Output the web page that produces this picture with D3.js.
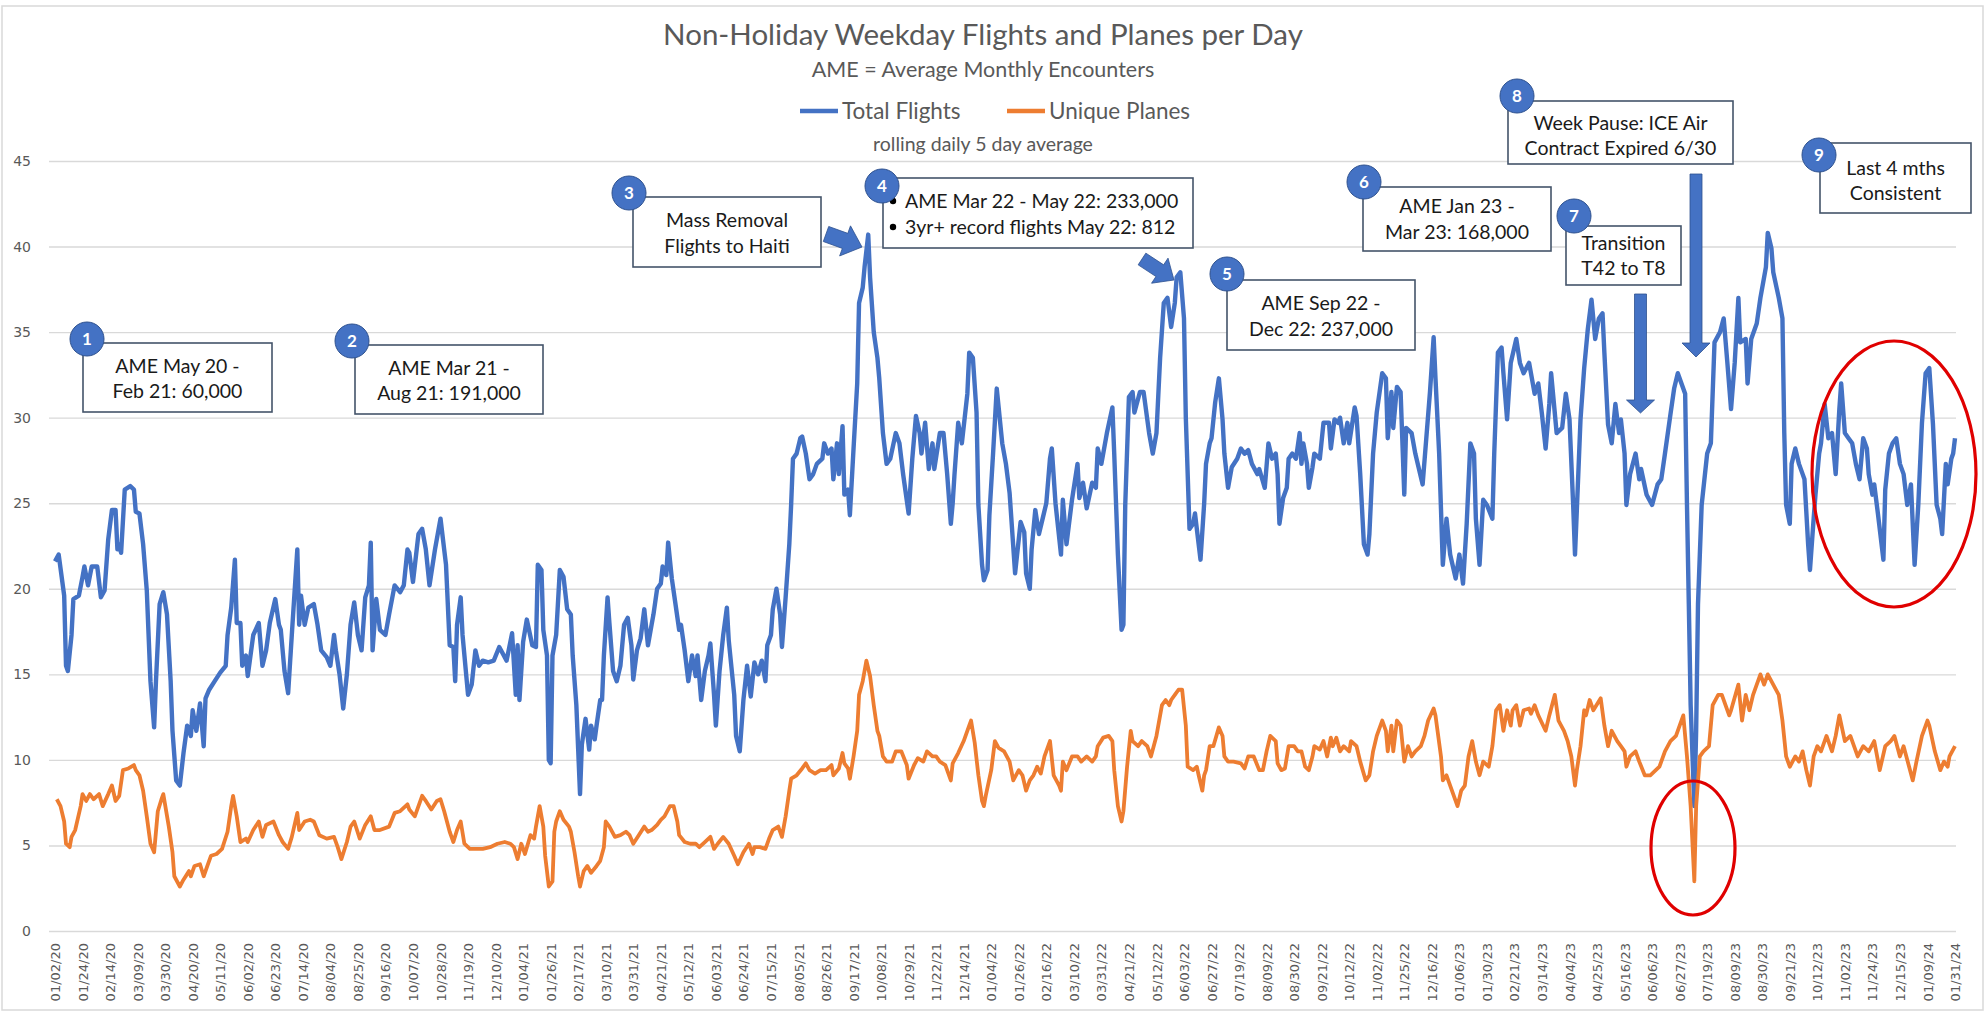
<!DOCTYPE html>
<html>
<head>
<meta charset="utf-8">
<script src="https://cdn.jsdelivr.net/npm/d3@7/dist/d3.min.js"></script>
<style>
  body { margin: 0; background: #fff; }
  svg { display: block; }
</style>
</head>
<body>
<svg id="chart" width="1986" height="1013"></svg>
<script>
// tick labels, one every 15 non-holiday weekdays
const dateLabels = ['01/02/20','01/24/20','02/14/20','03/09/20','03/30/20','04/20/20','05/11/20','06/02/20','06/23/20','07/14/20',
  '08/04/20','08/25/20','09/16/20','10/07/20','10/28/20','11/19/20','12/10/20','01/04/21','01/26/21','02/17/21',
  '03/10/21','03/31/21','04/21/21','05/12/21','06/03/21','06/24/21','07/15/21','08/05/21','08/26/21','09/17/21',
  '10/08/21','10/29/21','11/22/21','12/14/21','01/04/22','01/26/22','02/16/22','03/10/22','03/31/22','04/21/22',
  '05/12/22','06/03/22','06/27/22','07/19/22','08/09/22','08/30/22','09/21/22','10/12/22','11/02/22','11/25/22',
  '12/16/22','01/06/23','01/30/23','02/21/23','03/14/23','04/04/23','04/25/23','05/16/23','06/06/23','06/27/23',
  '07/19/23','08/09/23','08/30/23','09/21/23','10/12/23','11/02/23','11/24/23','12/15/23','01/09/24','01/31/24'];
const dayCount = 1036;
const yTicks = [0, 5, 10, 15, 20, 25, 30, 35, 40, 45];

// [weekday index, rolling 5 day average]
const totalFlights = [[0,21.6],[2,22.0],[5,19.6],[6,15.5],[7,15.2],[9,17.3],[10,19.4],[13,19.6],[15,20.7],[16,21.3],[18,20.2],[20,21.3],[23,21.3],[25,19.5],[27,19.9],[29,22.9],[31,24.6],[33,24.6],[34,22.3],[35,22.6],[36,22.1],[38,25.8],[41,26.0],[43,25.8],[44,24.5],[46,24.4],[48,22.6],[50,19.9],[52,14.6],[54,11.9],[55,14.6],[57,19.1],[59,19.8],[61,18.5],[63,14.6],[64,11.7],[66,8.8],[68,8.5],[70,10.4],[72,12.0],[74,11.4],[75,12.9],[77,11.7],[79,13.3],[81,10.8],[82,13.6],[84,14.1],[87,14.6],[90,15.1],[93,15.5],[94,17.3],[96,18.9],[98,21.7],[99,18.0],[101,18.0],[102,15.5],[104,16.1],[105,14.9],[108,17.3],[111,18.0],[113,15.5],[115,16.4],[117,18.0],[120,19.4],[122,17.9],[123,17.6],[125,15.2],[127,13.9],[129,17.3],[132,22.3],[133,17.9],[134,19.6],[136,17.9],[138,18.9],[141,19.1],[143,17.9],[145,16.4],[148,16.0],[150,15.5],[152,17.3],[153,16.4],[155,15.0],[157,13.0],[159,15.0],[161,17.9],[163,19.2],[165,17.3],[167,16.4],[169,19.5],[171,20.2],[172,22.7],[173,16.4],[175,19.4],[177,17.6],[180,17.3],[182,18.5],[185,20.2],[188,19.8],[190,20.2],[192,22.3],[193,22.1],[195,20.4],[198,23.2],[200,23.5],[202,22.3],[204,20.2],[207,22.3],[210,24.1],[212,22.3],[213,21.4],[215,16.7],[217,16.6],[218,14.6],[219,17.9],[221,19.5],[222,17.3],[225,13.8],[227,14.4],[229,16.4],[231,15.5],[233,15.8],[236,15.7],[239,15.8],[242,16.6],[246,15.8],[249,17.4],[251,13.8],[252,16.7],[253,13.5],[255,16.9],[257,18.2],
  [260,16.7],[262,16.6],[263,21.4],[265,21.1],[266,17.6],[268,16.1],[269,10.0],[270,9.8],[271,16.1],[273,17.3],[275,21.1],[277,20.7],[279,18.8],[281,18.5],[282,16.1],[284,13.2],[285,10.6],[286,8.0],[287,10.9],[289,12.4],[291,10.6],[292,12.0],[294,11.2],[295,12.0],[297,13.5],[298,13.5],[299,16.1],[301,19.5],[302,18.0],[304,15.2],[306,14.6],[308,15.5],[310,17.9],[312,18.3],[314,16.7],[315,14.7],[317,16.4],[319,17.1],[321,18.8],[323,16.7],[325,17.9],[326,18.5],[328,20.0],[330,20.3],[331,21.3],[333,20.8],[334,22.7],[336,20.6],[338,19.1],[340,17.6],[341,17.9],[343,16.4],[345,14.6],[347,16.1],[349,14.9],[350,16.1],[352,13.5],[354,15.2],[356,16.1],[357,16.8],[359,13.8],[360,12.0],[362,15.2],[364,17.3],[366,18.9],[367,17.0],[370,13.8],[371,11.4],[373,10.5],[375,13.5],[377,15.5],[379,13.7],[381,15.7],[383,15.0],[385,15.8],[387,14.6],[388,16.7],[390,17.3],[391,18.8],[393,20.0],[395,18.5],[396,16.6],[398,19.5],[400,22.6],[401,24.9],[402,27.6],[404,27.9],[406,28.8],[407,28.9],[409,27.9],[411,26.4],[413,26.7],[415,27.3],[418,27.6],[419,28.5],[421,27.9],[423,28.2],[424,26.4],[426,28.5],[427,26.7],[429,29.5],[430,25.5],[432,25.8],[433,24.3],[435,28.2],[437,32.0],[438,36.7],[440,37.6],[441,38.8],[443,40.7],[444,38.2],[446,35.0],[448,33.5],[449,32.3],[451,29.1],[453,27.3],[455,27.6],[458,29.1],[460,28.5],[462,26.7],[465,24.4],[467,27.6],[469,30.1],[471,29.1],[472,27.9],[474,29.7],[476,27.0],[478,28.5],[479,27.0],[482,29.1],[484,29.1],[486,26.7],[488,23.8],[489,25.0],[490,26.7],[492,29.7],[494,28.5],[497,31.4],[498,33.8],[500,33.5],[502,30.3],[503,24.9],[505,21.4],[506,20.5],[508,21.1],[509,24.3],[511,27.9],[513,31.7],[516,28.5],[518,27.3],
  [520,25.6],[523,20.9],[526,23.9],[528,23.3],[529,20.9],[531,20.0],[532,22.3],[534,24.6],[536,23.2],[538,24.1],[540,25.0],[542,27.6],[543,28.2],[545,25.0],[548,22.0],[549,25.2],[551,22.6],[554,25.2],[557,27.3],[558,25.3],[560,26.2],[562,24.7],[565,26.2],[567,25.9],[568,28.2],[570,27.3],[573,29.1],[576,30.6],[577,27.9],[579,22.0],[581,17.6],[582,17.9],[583,24.9],[585,31.2],[587,31.5],[588,30.3],[591,31.5],[593,31.5],[596,29.1],[598,27.9],[600,29.1],[602,33.5],[604,36.7],[606,37.0],[608,35.3],[610,36.7],[611,38.2],[613,38.5],[615,35.8],[616,30.0],[618,23.5],[620,23.8],[621,24.4],[622,23.5],[624,21.7],[626,25.0],[627,27.3],[629,28.5],[630,28.8],[632,30.9],[634,32.3],[636,29.9],[637,27.9],[639,25.9],[641,27.1],[644,27.6],[646,28.2],[648,27.9],[650,28.1],[652,27.3],[655,26.7],[656,27.0],[659,25.9],[661,28.5],[663,27.6],[665,27.9],[666,26.7],[667,23.8],[669,25.3],[671,25.9],[672,27.6],[674,27.9],[676,27.6],[678,29.1],[679,27.3],[680,28.5],[682,27.3],[683,25.9],[685,27.1],[686,27.9],[689,27.6],[691,29.7],[694,29.7],[695,28.2],[697,29.9],[699,29.7],[700,30.0],[702,28.5],[704,29.7],[705,28.5],[708,30.6],[709,30.1],[711,26.7],[713,22.6],[715,22.0],[716,23.2],[718,27.9],[720,30.3],[723,32.6],[725,32.3],[726,28.8],[728,31.5],[729,29.4],[731,31.8],[733,31.5],[735,25.5],[736,29.4],[739,29.1],[741,27.9],[743,27.0],[745,26.1],[747,28.8],[749,31.5],[751,34.7],[752,32.3],[754,27.9],[756,21.4],[758,24.1],[760,22.0],[763,20.6],[765,22.0],[767,20.3],[769,23.8],[771,28.5],[773,27.9],[774,24.1],[776,21.4],
  [778,25.2],[780,24.9],[783,24.1],[784,27.9],[786,33.8],[788,34.1],[789,32.6],[791,29.9],[793,33.2],[796,34.6],[798,33.2],[800,32.6],[803,33.2],[804,32.6],[806,31.4],[808,32.0],[810,30.2],[812,28.2],[814,30.8],[815,32.6],[818,29.1],[821,29.4],[823,31.4],[825,29.9],[827,24.9],[828,22.0],[829,24.6],[831,29.9],[833,32.9],[835,35.2],[837,36.9],[839,34.6],[841,35.8],[843,36.1],[844,33.8],[846,29.6],[848,28.5],[850,30.8],[852,29.1],[853,29.9],[855,27.9],[856,24.9],[858,26.7],[861,27.9],[863,26.4],[864,27.0],[867,25.5],[870,24.9],[873,26.1],[875,26.4],[877,27.9],[880,30.2],[882,31.7],[884,32.6],[886,32.0],[888,31.4],[889,24.9],[890,19.1],[891,13.2],[893,7.3],[894,11.7],[895,19.1],[897,24.9],[900,27.9],[902,28.5],[904,34.4],[907,35.0],[909,35.8],[911,33.2],[913,30.5],[915,33.2],[917,37.0],[918,34.4],[921,34.6],[922,32.0],[924,34.6],[927,35.5],[929,37.0],[930,37.6],[932,38.8],[933,40.8],[935,39.9],[936,38.5],[939,37.0],[941,35.8],[942,29.1],[943,24.9],[945,23.8],[946,27.3],[948,28.2],[950,27.3],[952,26.7],[953,26.4],[955,22.6],[956,21.1],[958,24.1],[959,25.5],[961,27.9],[962,28.5],[964,30.8],[966,28.8],[968,29.1],[970,26.7],[972,30.5],[973,32.0],[975,29.1],[977,28.8],[979,28.5],[981,27.3],[983,26.4],[985,28.8],[987,28.2],[988,26.7],[990,25.5],[991,26.1],[993,24.4],[996,21.7],[997,25.8],[999,27.9],[1001,28.5],[1003,28.8],[1005,27.3],[1007,26.7],[1009,24.9],[1011,26.1],[1013,21.4],[1015,24.9],[1017,29.7],[1019,32.6],[1021,32.9],[1023,29.6],[1025,24.9],[1027,24.1],[1028,23.2],[1030,27.3],[1031,26.1],[1033,27.6],[1034,27.9],[1035,28.8]];

const uniquePlanes = [[1,7.7],[3,7.3],[5,6.4],[6,5.1],[8,4.9],[9,5.5],[11,5.9],[14,7.3],[15,8.0],[17,7.6],[19,8.0],[21,7.7],[24,8.0],[26,7.3],[29,8.0],[31,8.5],[33,7.6],[35,7.9],[37,9.4],[40,9.5],[43,9.7],[44,9.4],[46,9.1],[48,8.2],[50,6.7],[52,5.1],[54,4.6],[56,7.0],[58,7.7],[59,8.0],[62,6.1],[64,4.6],[65,3.2],[68,2.6],[70,3.0],[73,3.5],[74,3.2],[76,3.8],[79,3.9],[81,3.2],[83,3.8],[85,4.4],[88,4.5],[91,4.8],[94,5.8],[96,7.3],[97,7.9],[99,6.7],[101,5.2],[104,5.4],[105,5.2],[108,5.9],[111,6.4],[113,5.5],[115,6.2],[119,6.4],[122,5.6],[124,5.2],[127,4.8],[129,5.5],[132,6.9],[133,5.9],[136,6.4],[139,6.5],[141,6.4],[144,5.6],[148,5.4],[152,5.5],[154,4.9],[156,4.2],[159,5.2],[161,6.1],[163,6.4],[166,5.4],[169,6.2],[172,6.7],[174,5.9],[177,5.9],[182,6.1],[185,6.9],[188,7.0],[192,7.4],[193,7.1],[196,6.7],[200,7.9],[202,7.6],[205,7.1],[208,7.6],[210,7.7],[212,7.0],[215,5.8],[217,5.2],[219,5.9],[221,6.4],[223,5.1],[226,4.8],[230,4.8],[233,4.8],[237,4.9],[241,5.1],[245,5.2],[248,5.1],[250,4.9],[252,4.2],[254,5.1],[256,4.5],
  [259,5.6],[261,5.4],[262,6.1],[264,7.3],[266,6.1],[267,4.4],[269,2.6],[271,2.9],[272,5.8],[273,6.4],[275,7.0],[277,6.5],[280,6.1],[281,5.8],[283,4.6],[285,3.2],[286,2.6],[288,3.5],[290,3.8],[292,3.4],[295,3.8],[297,4.1],[299,4.9],[300,6.4],[302,6.1],[305,5.5],[308,5.6],[311,5.8],[313,5.6],[315,5.1],[318,5.6],[321,6.1],[323,5.8],[325,5.9],[328,6.2],[330,6.5],[332,6.7],[335,7.3],[337,7.3],[339,6.4],[340,5.6],[343,5.2],[346,5.1],[349,5.1],[351,4.9],[354,5.2],[357,5.5],[359,4.8],[361,5.1],[364,5.5],[367,5.1],[370,4.4],[372,3.9],[375,4.6],[378,5.1],[380,4.5],[381,4.9],[384,4.9],[387,4.8],[389,5.4],[391,5.9],[394,6.1],[396,5.5],[398,6.7],[400,8.2],[401,8.9],[404,9.1],[407,9.5],[409,9.8],[411,9.4],[414,9.2],[417,9.4],[420,9.4],[423,9.7],[424,9.1],[427,9.5],[429,10.4],[430,9.8],[432,9.5],[433,8.9],[435,10.2],[437,11.7],[438,13.8],[440,14.6],[442,15.8],[444,14.9],[446,13.2],[448,11.7],[449,11.4],[451,10.2],[453,9.9],[456,9.9],[458,10.5],[461,10.5],[464,9.7],[465,8.9],[468,9.7],[470,10.1],[473,9.9],[475,10.5],[478,10.2],[480,10.2],[482,9.9],[485,9.7],[488,8.8],[489,9.8],[492,10.4],[495,11.1],[498,12.0],[499,12.3],[501,11.0],[503,9.1],[505,7.6],[506,7.3],[507,7.9],[510,9.4],[512,11.1],[514,10.7],[517,10.5],[520,9.9],
  [522,8.8],[525,9.4],[527,9.1],[529,8.2],[531,8.8],[533,9.1],[535,9.6],[537,9.2],[539,10.2],[542,11.1],[544,9.1],[547,8.5],[548,8.2],[549,9.9],[551,9.4],[554,10.2],[557,10.2],[559,9.9],[562,10.2],[565,9.9],[567,10.2],[568,10.8],[571,11.3],[574,11.4],[576,11.1],[577,9.4],[579,7.3],[581,6.4],[582,7.0],[584,9.6],[586,11.7],[587,11.1],[590,10.8],[592,11.1],[595,10.8],[597,10.2],[600,11.4],[603,13.2],[605,13.5],[607,13.2],[608,13.5],[610,13.8],[612,14.1],[614,14.1],[616,12.0],[617,9.6],[620,9.4],[622,9.6],[623,9.1],[625,8.2],[626,9.1],[627,9.4],[629,10.8],[631,10.8],[634,11.9],[636,11.4],[637,10.2],[639,9.9],[642,9.9],[646,9.8],[648,9.5],[650,10.2],[653,10.2],[656,9.4],[658,9.4],[660,10.5],[662,11.4],[665,11.1],[666,9.8],[668,9.4],[670,9.5],[672,10.8],[675,10.8],[677,10.5],[679,10.5],[681,9.6],[683,9.4],[685,10.2],[686,10.8],[689,10.6],[691,11.1],[693,10.2],[695,11.3],[696,10.8],[698,11.3],[700,10.5],[702,10.8],[705,10.5],[706,11.1],[709,10.8],[711,9.9],[714,8.8],[716,9.1],[718,10.5],[720,11.4],[723,12.3],[725,11.7],[726,10.5],[728,12.0],[729,10.5],[731,12.3],[733,12.0],[735,9.9],[737,10.8],[739,10.2],[741,10.5],[744,10.8],[746,11.4],[748,12.3],[751,13.0],[752,12.6],[755,10.2],[756,8.8],[758,9.1],[760,8.5],[762,7.9],[764,7.3],[766,8.2],[768,8.5],[770,10.2],[772,11.1],[774,9.9],[776,9.1],
  [778,9.9],[781,9.6],[783,10.8],[785,12.9],[787,13.2],[789,11.7],[791,12.9],[793,12.0],[794,12.9],[796,13.2],[798,12.0],[800,12.9],[803,13.0],[804,12.7],[806,13.2],[808,12.6],[812,11.7],[814,12.6],[817,13.8],[819,12.3],[822,11.7],[824,11.1],[826,10.2],[828,8.5],[829,9.4],[831,10.8],[833,12.9],[834,12.6],[836,13.5],[838,12.9],[842,13.6],[844,12.0],[846,10.8],[848,11.7],[851,11.1],[853,10.8],[855,10.5],[856,9.6],[858,10.2],[861,10.5],[863,9.9],[866,9.1],[869,9.1],[872,9.4],[874,9.6],[877,10.5],[880,11.1],[883,11.4],[885,12.0],[887,12.6],[889,10.2],[891,7.3],[893,2.9],[894,7.3],[896,10.2],[898,10.5],[901,10.8],[903,13.2],[906,13.8],[908,13.8],[912,12.6],[913,12.9],[917,14.4],[919,12.3],[921,13.8],[923,12.9],[925,13.8],[929,15.0],[931,14.4],[933,15.0],[936,14.4],[939,13.8],[941,12.3],[943,10.2],[945,9.6],[948,10.2],[950,9.9],[952,10.5],[954,9.4],[956,8.5],[958,10.2],[960,10.8],[962,10.5],[965,11.4],[968,10.5],[970,11.4],[972,12.6],[975,11.1],[978,11.4],[980,10.8],[982,10.2],[985,10.8],[988,10.5],[991,11.1],[994,9.4],[997,10.8],[1000,11.1],[1002,11.4],[1005,10.2],[1007,10.8],[1010,9.6],[1012,8.8],[1014,9.9],[1017,11.4],[1020,12.3],[1021,12.0],[1024,10.5],[1027,9.4],[1029,9.9],[1031,9.6],[1032,10.2],[1035,10.8]];

const seriesNames = ['Total Flights', 'Unique Planes'];
const seriesColors = ['#4472c4', '#ed7d31'];

// numbered call-out boxes
const notes = [
  { n: '1', box: [83, 343, 189, 69], circle: [87, 339], lines: ['AME May 20 -', 'Feb 21: 60,000'], ly: [366, 391] },
  { n: '2', box: [355, 345, 188, 69], circle: [352, 341], lines: ['AME Mar 21 -', 'Aug 21: 191,000'], ly: [368, 393] },
  { n: '3', box: [633, 197, 188, 70], circle: [629, 193], lines: ['Mass Removal', 'Flights to Haiti'], ly: [220, 246] },
  { n: '4', box: [883, 178, 310, 70], circle: [882, 186], lines: ['AME Mar 22 - May 22: 233,000', '3yr+ record flights May 22: 812'], ly: [201, 227], bullets: true },
  { n: '5', box: [1227, 280, 188, 70], circle: [1227, 274], lines: ['AME Sep 22 -', 'Dec 22: 237,000'], ly: [303, 329] },
  { n: '6', box: [1363, 187, 188, 64], circle: [1364, 182], lines: ['AME Jan 23 -', 'Mar 23: 168,000'], ly: [206, 232] },
  { n: '7', box: [1566, 226, 115, 59], circle: [1574, 216], lines: ['Transition', 'T42 to T8'], ly: [243, 268] },
  { n: '8', box: [1508, 101, 225, 63], circle: [1517, 96], lines: ['Week Pause: ICE Air', 'Contract Expired 6/30'], ly: [123, 148] },
  { n: '9', box: [1820, 143, 151, 70], circle: [1819, 155], lines: ['Last 4 mths', 'Consistent'], ly: [168, 193] }
];

const svg = d3.select('#chart');
const W = 1986, H = 1013;
const plotLeft = 49, plotRight = 1956;

svg.append('rect')
  .attr('x', 2).attr('y', 6).attr('width', W - 5).attr('height', H - 9)
  .attr('fill', '#fff').attr('stroke', '#d9d9d9').attr('stroke-width', 1.5);

const x = d3.scaleLinear().domain([0, dayCount - 1]).range([55, 1955]);
const y = d3.scaleLinear().domain([0, 45]).range([931, 161]);

// y axis with gridlines
const yAxis = svg.append('g')
  .attr('transform', `translate(${plotLeft},0)`)
  .call(d3.axisLeft(y).tickValues(yTicks).tickSize(-(plotRight - plotLeft)).tickPadding(18));
yAxis.select('.domain').remove();
yAxis.selectAll('line').attr('stroke', '#d9d9d9').attr('stroke-width', 1.4);
yAxis.selectAll('text')
  .attr('fill', '#595959')
  .style('font-family', 'DejaVu Sans, Verdana, sans-serif')
  .style('font-size', '14px');

// x axis labels, rotated
const xAxis = svg.append('g')
  .attr('transform', `translate(0,${y(0)})`)
  .call(d3.axisBottom(x)
    .tickValues(dateLabels.map((d, i) => i * 15))
    .tickFormat((d) => dateLabels[d / 15])
    .tickSize(0));
xAxis.select('.domain').remove();
xAxis.selectAll('text')
  .attr('transform', 'rotate(-90)')
  .attr('x', -12)
  .attr('y', 0)
  .attr('dy', '0.35em')
  .attr('text-anchor', 'end')
  .attr('fill', '#595959')
  .style('font-family', 'DejaVu Sans, Verdana, sans-serif')
  .style('font-size', '13px');

const line = d3.line()
  .x((d) => x(d[0]))
  .y((d) => y(d[1]));

svg.append('path')
  .datum(totalFlights)
  .attr('d', line)
  .attr('fill', 'none')
  .attr('stroke', seriesColors[0])
  .attr('stroke-width', 4.4)
  .attr('stroke-linejoin', 'round');

svg.append('path')
  .datum(uniquePlanes)
  .attr('d', line)
  .attr('fill', 'none')
  .attr('stroke', seriesColors[1])
  .attr('stroke-width', 3.8)
  .attr('stroke-linejoin', 'round');

// titles
const calibri = 'Lato, Carlito, Calibri, sans-serif';
svg.append('text')
  .attr('x', 983).attr('y', 45)
  .attr('text-anchor', 'middle')
  .attr('fill', '#595959')
  .style('font-family', calibri)
  .style('font-size', '29.5px')
  .text('Non-Holiday Weekday Flights and Planes per Day');

svg.append('text')
  .attr('x', 983).attr('y', 77)
  .attr('text-anchor', 'middle')
  .attr('fill', '#595959')
  .style('font-family', calibri)
  .style('font-size', '21.5px')
  .text('AME = Average Monthly Encounters');

svg.append('text')
  .attr('x', 983).attr('y', 151)
  .attr('text-anchor', 'middle')
  .attr('fill', '#595959')
  .style('font-family', calibri)
  .style('font-size', '19.5px')
  .text('rolling daily 5 day average');

// legend
const legendX = [800, 1007];
seriesNames.forEach((name, i) => {
  const g = svg.append('g').attr('transform', `translate(${legendX[i]},111)`);
  g.append('line')
    .attr('x1', 0).attr('x2', 38)
    .attr('stroke', seriesColors[i]).attr('stroke-width', 4.5);
  g.append('text')
    .attr('x', 42).attr('y', 8)
    .attr('fill', '#595959')
    .style('font-family', calibri)
    .style('font-size', '22.5px')
    .text(name);
});

// block arrows
function blockArrow(x1, y1, x2, y2, sw, hw, hl) {
  const len = Math.hypot(x2 - x1, y2 - y1);
  const ux = (x2 - x1) / len, uy = (y2 - y1) / len;
  const px = -uy, py = ux;
  const bx = x2 - ux * hl, by = y2 - uy * hl;
  const pts = [
    [x1 + px * sw / 2, y1 + py * sw / 2],
    [bx + px * sw / 2, by + py * sw / 2],
    [bx + px * hw / 2, by + py * hw / 2],
    [x2, y2],
    [bx - px * hw / 2, by - py * hw / 2],
    [bx - px * sw / 2, by - py * sw / 2],
    [x1 - px * sw / 2, y1 - py * sw / 2]
  ];
  svg.append('polygon')
    .attr('points', pts.map((p) => p.join(',')).join(' '))
    .attr('fill', '#4472c4')
    .attr('stroke', '#2f528f')
    .attr('stroke-width', 0.8);
}
blockArrow(826, 234, 862, 247, 16, 32, 18);
blockArrow(1142, 259, 1174, 280, 14, 30, 17);
blockArrow(1640.5, 294, 1640.5, 413, 12, 28, 13);
blockArrow(1696, 174, 1696, 357, 12, 28, 14);

// call-out boxes
notes.forEach((d) => {
  const g = svg.append('g');
  g.append('rect')
    .attr('x', d.box[0]).attr('y', d.box[1])
    .attr('width', d.box[2]).attr('height', d.box[3])
    .attr('fill', '#fff')
    .attr('stroke', '#44546a')
    .attr('stroke-width', 1.6);
  d.lines.forEach((t, j) => {
    if (d.bullets) {
      g.append('circle')
        .attr('cx', d.box[0] + 10).attr('cy', d.ly[j])
        .attr('r', 3.2).attr('fill', '#000');
      g.append('text')
        .attr('x', d.box[0] + 22).attr('y', d.ly[j] + 7)
        .attr('fill', '#1a1a1a')
        .style('font-family', calibri)
        .style('font-size', '19.5px')
        .text(t);
    } else {
      g.append('text')
        .attr('x', d.box[0] + d.box[2] / 2).attr('y', d.ly[j] + 7)
        .attr('text-anchor', 'middle')
        .attr('fill', '#1a1a1a')
        .style('font-family', calibri)
        .style('font-size', '19.5px')
        .text(t);
    }
  });
  g.append('circle')
    .attr('cx', d.circle[0]).attr('cy', d.circle[1])
    .attr('r', 17)
    .attr('fill', '#4472c4')
    .attr('stroke', '#2f528f')
    .attr('stroke-width', 1);
  g.append('text')
    .attr('x', d.circle[0]).attr('y', d.circle[1] + 6)
    .attr('text-anchor', 'middle')
    .attr('fill', '#fff')
    .style('font-family', calibri)
    .style('font-weight', 'bold')
    .style('font-size', '17px')
    .text(d.n);
});

// red highlight ellipses
svg.append('ellipse')
  .attr('cx', 1693).attr('cy', 848).attr('rx', 42).attr('ry', 67)
  .attr('fill', 'none').attr('stroke', '#e00000').attr('stroke-width', 3.2);
svg.append('ellipse')
  .attr('cx', 1894).attr('cy', 474).attr('rx', 82).attr('ry', 133)
  .attr('fill', 'none').attr('stroke', '#e00000').attr('stroke-width', 3.2);
</script>
</body>
</html>
